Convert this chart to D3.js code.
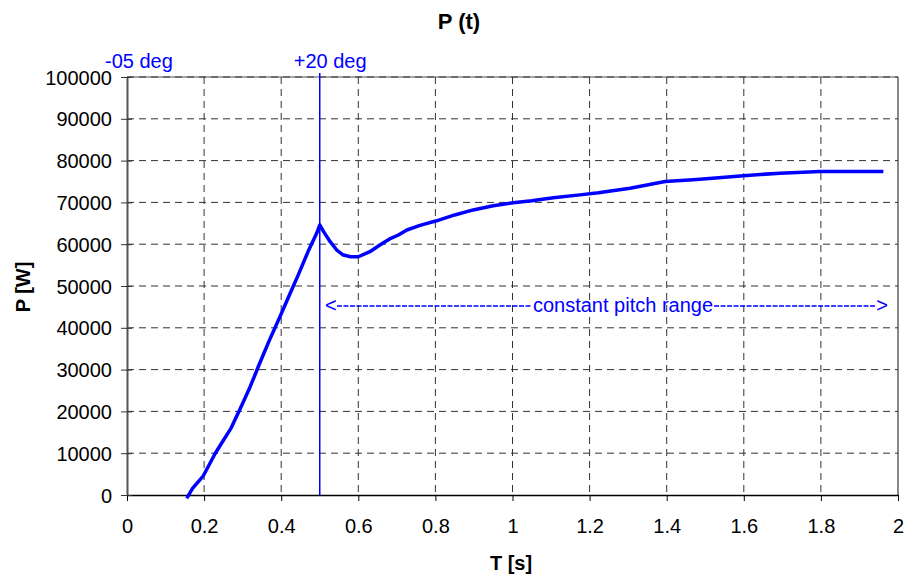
<!DOCTYPE html>
<html>
<head>
<meta charset="utf-8">
<script src="https://cdn.jsdelivr.net/npm/d3@7"></script>
<style>
  body { margin: 0; background: #fff; }
  svg { font-family: "Liberation Sans", Arial, sans-serif; }
</style>
</head>
<body>
<div id="chart"></div>
<script>
// time [s] and power [W]
const tValues = [0.155, 0.170, 0.198, 0.228, 0.246, 0.270, 0.293, 0.319, 0.341, 0.367,
    0.397, 0.423, 0.444, 0.470, 0.492, 0.500, 0.510, 0.527, 0.545, 0.561,
    0.580, 0.600, 0.630, 0.656, 0.680, 0.704, 0.726, 0.760, 0.803, 0.850,
    0.898, 0.950, 1.002, 1.050, 1.106, 1.175, 1.223, 1.305, 1.396, 1.478,
    1.599, 1.694, 1.798, 1.962];
const pValues = [-800, 1600, 4600, 9800, 12500, 16000, 20500, 25800, 30800, 36500,
    42700, 48200, 52600, 58300, 62600, 64600, 63000, 60600, 58500, 57400,
    57000, 57000, 58200, 59800, 61200, 62200, 63400, 64500, 65600, 67000,
    68200, 69200, 69900, 70400, 71100, 71800, 72300, 73400, 75000, 75500,
    76400, 77000, 77400, 77400];

const xTicks = [0, 0.2, 0.4, 0.6, 0.8, 1, 1.2, 1.4, 1.6, 1.8, 2];
const yTicks = [0, 10000, 20000, 30000, 40000, 50000, 60000, 70000, 80000, 90000, 100000];

// pitch markers
const markerTimes = [0, 0.5];
const markerLabels = ["-05 deg", "+20 deg"];

const width = 907, height = 579;
const margin = { top: 77, right: 9, bottom: 84, left: 127 };
const blue = "#0000ff";
const fs = 20;

const svg = d3.select("#chart").append("svg")
    .attr("width", width)
    .attr("height", height);

const x = d3.scaleLinear().domain([0, 2]).range([margin.left, width - margin.right]);
const y = d3.scaleLinear().domain([0, 100000]).range([height - margin.bottom, margin.top]);

// frame (top and right in grey)
svg.append("line")
    .attr("x1", x(0)).attr("x2", x(2))
    .attr("y1", y(100000)).attr("y2", y(100000))
    .attr("stroke", "#888").attr("stroke-width", 1.5);
svg.append("line")
    .attr("x1", x(2)).attr("x2", x(2))
    .attr("y1", y(100000)).attr("y2", y(0))
    .attr("stroke", "#888").attr("stroke-width", 2);

// dashed grid
const grid = svg.append("g").attr("stroke", "#333").attr("stroke-width", 1)
    .attr("stroke-dasharray", "7,5");
grid.selectAll(".gx").data(xTicks.slice(1, -1)).enter().append("line")
    .attr("x1", d => x(d)).attr("x2", d => x(d))
    .attr("y1", y(100000)).attr("y2", y(0));
grid.selectAll(".gy").data(yTicks.slice(1)).enter().append("line")
    .attr("x1", x(0)).attr("x2", x(2))
    .attr("y1", d => y(d)).attr("y2", d => y(d));

// axes
const xAxis = d3.axisBottom(x).tickValues(xTicks).tickSize(6).tickSizeOuter(0)
    .tickFormat(d3.format("~g"));
const gx = svg.append("g").attr("transform", `translate(0,${y(0)})`).call(xAxis);
gx.select(".domain").attr("stroke", "#000").attr("stroke-width", 1.5);
gx.selectAll(".tick line").attr("stroke", "#000");
gx.selectAll(".tick text").attr("font-size", fs).attr("font-family", "Liberation Sans, Arial, sans-serif")
    .attr("fill", "#000").attr("dy", 0).attr("y", 38);

const yAxis = d3.axisLeft(y).tickValues(yTicks).tickSize(6).tickSizeOuter(0)
    .tickFormat(d3.format("d"));
const gy = svg.append("g").attr("transform", `translate(${x(0)},0)`).call(yAxis);
gy.select(".domain").attr("stroke", "#555").attr("stroke-width", 2);
gy.selectAll(".tick line").attr("stroke", "#333").attr("x1", 5);
gy.selectAll(".tick text").attr("font-size", fs).attr("font-family", "Liberation Sans, Arial, sans-serif")
    .attr("fill", "#000").attr("x", -15).attr("dy", "0.35em");

// power curve
const line = d3.line().x((d, i) => x(tValues[i])).y(d => y(d));
svg.append("path")
    .datum(pValues)
    .attr("d", line)
    .attr("fill", "none")
    .attr("stroke", blue)
    .attr("stroke-width", 3.5)
    .attr("stroke-linejoin", "round");

// vertical marker at +20 deg
svg.append("line")
    .attr("x1", x(markerTimes[1])).attr("x2", x(markerTimes[1]))
    .attr("y1", y(100000) - 4).attr("y2", y(0))
    .attr("stroke", blue).attr("stroke-width", 1.5);

svg.selectAll(".mlabel").data(markerTimes).enter().append("text")
    .attr("x", (d, i) => x(d) + (i === 0 ? -22 : -26))
    .attr("y", 68)
    .attr("font-size", fs)
    .attr("fill", blue)
    .text((d, i) => markerLabels[i]);

// constant pitch range arrow
const arrowY = 306;
const rangeText = svg.append("text")
    .attr("x", 623).attr("y", arrowY + 6)
    .attr("text-anchor", "middle")
    .attr("font-size", fs).attr("fill", blue)
    .text("constant pitch range");
svg.append("text").attr("x", 325).attr("y", arrowY + 6).attr("font-size", fs).attr("fill", blue).text("<");
svg.append("text").attr("x", 888).attr("y", arrowY + 6).attr("text-anchor", "end")
    .attr("font-size", fs).attr("fill", blue).text(">");
const tw = rangeText.node().getComputedTextLength();
const dash = svg.append("g").attr("stroke", blue).attr("stroke-width", 1.3).attr("stroke-dasharray", "5,1.5");
dash.append("line").attr("x1", 337).attr("x2", 623 - tw / 2 - 1).attr("y1", arrowY).attr("y2", arrowY);
dash.append("line").attr("x1", 623 + tw / 2 + 1).attr("x2", 876).attr("y1", arrowY).attr("y2", arrowY);

// titles
svg.append("text")
    .attr("x", 459).attr("y", 29)
    .attr("text-anchor", "middle")
    .attr("font-size", 22).attr("font-weight", "bold")
    .text("P (t)");
svg.append("text")
    .attr("x", 511).attr("y", 570)
    .attr("text-anchor", "middle")
    .attr("font-size", fs).attr("font-weight", "bold")
    .text("T [s]");
svg.append("text")
    .attr("transform", "translate(30,287) rotate(-90)")
    .attr("text-anchor", "middle")
    .attr("font-size", fs).attr("font-weight", "bold")
    .text("P [W]");
</script>
</body>
</html>
